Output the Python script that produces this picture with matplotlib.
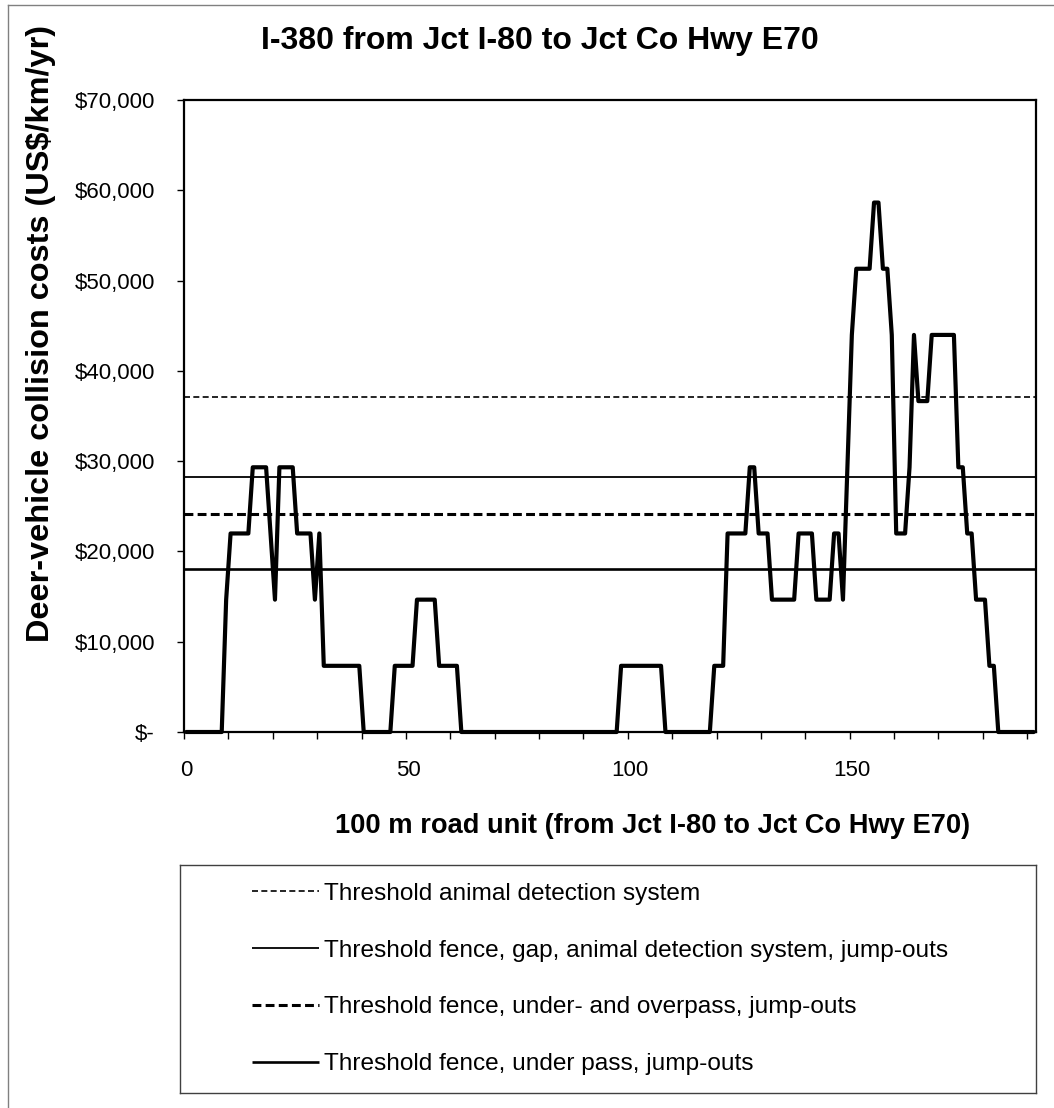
import matplotlib
matplotlib.use('Agg')
import matplotlib.pyplot as plt
from matplotlib.lines import Line2D
import numpy as np

# ---------------- data ----------------
road_unit = list(range(192))
cost = [
    0, 0, 0, 0, 0, 0, 0, 0, 0, 14660,                      # 0-9
    21990, 21990, 21990, 21990, 21990, 29320, 29320, 29320, 29320, 21990,  # 10-19
    14660, 29320, 29320, 29320, 29320, 21990, 21990, 21990, 21990, 14660,  # 20-29
    21990, 7330, 7330, 7330, 7330, 7330, 7330, 7330, 7330, 7330,           # 30-39
    0, 0, 0, 0, 0, 0, 0, 7330, 7330, 7330,                                 # 40-49
    7330, 7330, 14660, 14660, 14660, 14660, 14660, 7330, 7330, 7330,       # 50-59
    7330, 7330, 0, 0, 0, 0, 0, 0, 0, 0,                                    # 60-69
    0, 0, 0, 0, 0, 0, 0, 0, 0, 0,                                          # 70-79
    0, 0, 0, 0, 0, 0, 0, 0, 0, 0,                                          # 80-89
    0, 0, 0, 0, 0, 0, 0, 0, 7330, 7330,                                    # 90-99
    7330, 7330, 7330, 7330, 7330, 7330, 7330, 7330, 0, 0,                  # 100-109
    0, 0, 0, 0, 0, 0, 0, 0, 0, 7330,                                       # 110-119
    7330, 7330, 21990, 21990, 21990, 21990, 21990, 29320, 29320, 21990,    # 120-129
    21990, 21990, 14660, 14660, 14660, 14660, 14660, 14660, 21990, 21990,  # 130-139
    21990, 21990, 14660, 14660, 14660, 14660, 21990, 21990, 14660, 29320,  # 140-149
    43980, 51310, 51310, 51310, 51310, 58640, 58640, 51310, 51310, 43980,  # 150-159
    21990, 21990, 21990, 29320, 43980, 36650, 36650, 36650, 43980, 43980,  # 160-169
    43980, 43980, 43980, 43980, 29320, 29320, 21990, 21990, 14660, 14660,  # 170-179
    14660, 7330, 7330, 0, 0, 0, 0, 0, 0, 0,                                # 180-189
    0, 0,                                                                  # 190-191
]

threshold_labels = [
    'Threshold animal detection system',
    'Threshold fence, gap, animal detection system, jump-outs',
    'Threshold fence, under- and overpass, jump-outs',
    'Threshold fence, under pass, jump-outs',
]
threshold_values = [37100, 28200, 24200, 18100]

y_tick_values = [0, 10000, 20000, 30000, 40000, 50000, 60000, 70000]
y_tick_labels = ['$-', '$10,000', '$20,000', '$30,000', '$40,000',
                 '$50,000', '$60,000', '$70,000']
x_tick_values = [0, 50, 100, 150]
x_tick_labels = ['0', '50', '100', '150']

title = 'I-380 from Jct I-80 to Jct Co Hwy E70'
x_label = '100 m road unit (from Jct I-80 to Jct Co Hwy E70)'
y_label = 'Deer-vehicle collision costs (US$/km/yr)'

# ---------------- styles ----------------
threshold_styles = [
    dict(lw=1.2, ls=(0, (3.6, 2.0))),
    dict(lw=1.3, ls='-'),
    dict(lw=2.2, ls=(0, (2.9, 1.4))),
    dict(lw=1.9, ls='-'),
]

plt.rcParams['font.family'] = ['Liberation Sans', 'DejaVu Sans']

W, H = 1054, 1108
fig = plt.figure(figsize=(W / 100, H / 100), dpi=100)

# chart-area border (top & left visible)
fig.add_artist(Line2D([8 / W, 8 / W], [0, 1 - 5 / H], transform=fig.transFigure,
                      color='#808080', lw=1.0))
fig.add_artist(Line2D([8 / W, 1], [1 - 5 / H, 1 - 5 / H], transform=fig.transFigure,
                      color='#808080', lw=1.0))

ax = fig.add_axes([184 / W, 1 - 732 / H, (1036 - 184) / W, (732 - 100) / H])

handles = []
for val, lab, st in zip(threshold_values, threshold_labels, threshold_styles):
    h = ax.axhline(val, color='black', lw=st['lw'], ls=st['ls'], label=lab,
                   solid_capstyle='butt', dash_capstyle='butt', zorder=2)
    handles.append(h)

ax.plot(road_unit, cost, color='black', lw=3.0, solid_joinstyle='round',
        solid_capstyle='round', zorder=3, clip_on=False)

ax.set_xlim(-0.5, 191.5)
ax.set_ylim(0, 70000)

ax.set_yticks(y_tick_values)
ax.set_yticklabels(y_tick_labels, fontsize=16)
ax.set_xticks(x_tick_values)
ax.set_xticklabels(x_tick_labels, fontsize=16)
ax.set_xticks(np.arange(-0.5, 191.5, 10), minor=True)
ax.tick_params(axis='x', which='major', length=0, pad=20)
ax.tick_params(axis='x', which='minor', length=5, width=1.0, direction='out')
ax.tick_params(axis='y', which='major', length=5, width=1.0, direction='out', pad=16)

for sp in ax.spines.values():
    sp.set_linewidth(1.6)
    sp.set_color('black')

fig.text(540 / W, 1 - 41 / H, title, ha='center', va='center',
         fontsize=23, fontweight='bold')
fig.text(653 / W, 1 - 826 / H, x_label, ha='center', va='center',
         fontsize=19.6, fontweight='bold')
fig.text(41 / W, 1 - 333 / H, y_label, ha='center', va='center', rotation=90,
         fontsize=23.4, fontweight='bold')

# legend box
bx0, bx1, by0, by1 = 180, 1036, 865, 1093
lax = fig.add_axes([bx0 / W, 1 - by1 / H, (bx1 - bx0) / W, (by1 - by0) / H])
lax.set_xticks([])
lax.set_yticks([])
for sp in lax.spines.values():
    sp.set_linewidth(1.0)
    sp.set_color('#404040')
lax.set_facecolor('none')
leg = lax.legend(handles, threshold_labels, loc='center left',
                 bbox_to_anchor=(62 / (bx1 - bx0), 0.5), frameon=False,
                 fontsize=17.6, handlelength=2.75, handletextpad=0.22,
                 labelspacing=1.42, borderaxespad=0)

fig.savefig('out.png', dpi=100)
